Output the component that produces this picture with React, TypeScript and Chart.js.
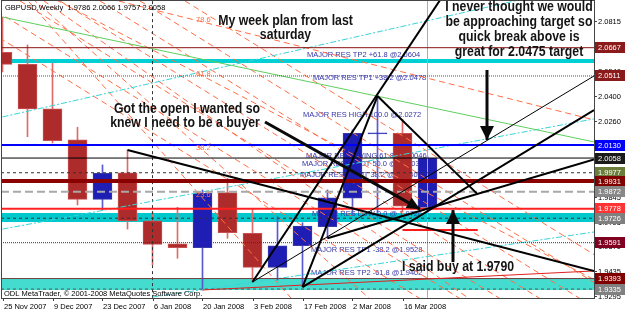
import { useEffect, useRef } from 'react';
import { Chart, registerables } from 'chart.js';

Chart.register(...registerables);

// ---------- data ----------
const weekLabels = ['25 Nov 2007', '2 Dec 2007', '9 Dec 2007', '16 Dec 2007', '23 Dec 2007', '30 Dec 2007', '6 Jan 2008', '13 Jan 2008', '20 Jan 2008', '27 Jan 2008', '3 Feb 2008', '10 Feb 2008', '17 Feb 2008', '24 Feb 2008', '2 Mar 2008', '9 Mar 2008', '16 Mar 2008', '23 Mar 2008'];
const opens = [2.0642, 2.0575, 2.0329, 2.0158, 1.9830, 1.9977, 1.9712, 1.9585, 1.9563, 1.9867, 1.9643, 1.9455, 1.9574, 1.9679, 1.9836, 2.0191, 2.0195, 1.9786];
const highs = [2.0836, 2.0682, 2.0581, 2.0228, 2.0020, 2.0102, 1.9760, 1.9786, 1.9882, 1.9946, 1.9781, 1.9734, 1.9701, 1.9882, 2.0213, 2.0400, 2.0272, 2.0066];
const lows = [2.0533, 2.0176, 2.0141, 1.9799, 1.9771, 1.9666, 1.9468, 1.9505, 1.9330, 1.9615, 1.9376, 1.9385, 1.9348, 1.9615, 1.9744, 1.9727, 1.9760, 1.9757];
const closes = [2.0575, 2.0329, 2.0154, 1.9830, 1.9974, 1.9711, 1.9582, 1.9563, 1.9863, 1.9646, 1.9455, 1.9574, 1.9683, 1.9839, 2.0195, 2.0195, 1.9793, 2.0058];

const axisTicks = [2.0815, 2.0675, 2.0540, 2.0400, 2.0260, 2.0120, 1.9985, 1.9845, 1.9705, 1.9570, 1.9435, 1.9295];
const levelPrices = [2.0667, 2.0511, 2.0130, 2.0058, 1.9977, 1.9931, 1.9872, 1.9778, 1.9726, 1.9591, 1.9393, 1.9335];

const fibTexts = ['MAJOR RES TP2 +61.8 @2.0604', 'MAJOR RES TP1 +38.2 @2.0478', 'MAJOR RES HIGH 100.0 @2.0272', 'MAJOR RES SWING 61.8 @2.0046', 'MAJOR RES PIVOT 50.0 @2.0003', 'MAJOR RES PIVOT 38.2 @1.9940', 'MAJOR RES LOW 0.0 @ 1.9726', 'MAJOR RES TP1 -38.2 @1.9528', 'MAJOR RES TP2 -61.8 @1.9402'];
const fibPrices = [2.0604, 2.0478, 2.0272, 2.0046, 2.0003, 1.9940, 1.9726, 1.9528, 1.9402];

// fan (origin then end price at bar 24)
const fanNames = ['78.6', '61.8', '50.0', '38.2', '23.6'];
const fanOrigin = [0, 2.1085];
const fanEndBar = 24;
const fanEndPrices = [2.0257, 1.9363, 1.8767, 1.8138, 1.7343];
// parallel dashed channel lines: bar at 2.0925 -> bar at 1.9286
const channelTopBars = [-2.5, -0.9, 0.7, 2.3, 3.9, 5.5, 7.3];
const channelBottomBars = [16.66, 18.26, 19.86, 21.46, 23.06, 24.66, 26.46];
const channelPrices = [2.0925, 1.9286];

// trend lines [bar1, price1, bar2, price2]
const blackLines = [
  [5, 2.0102, 23.66, 1.9435],
  [10, 1.9374, 17.6, 2.095],
  [15, 2.0400, 19, 1.9859],
  [12, 1.9346, 15, 2.0400],
  [13, 1.9615, 23.66, 2.0050],
  [10, 1.9374, 23.66, 2.0511],
  [12, 1.9346, 23.66, 2.0323],
];
const blackWidths = [2, 2, 2, 2, 2, 1, 2];
const arrowLines = [
  [10.5, 2.0257, 16.7, 1.9776],
  [19.38, 2.0544, 19.38, 2.0158],
  [18.02, 1.9484, 18.02, 1.9771],
];
const redShort = [16, 1.9661, 19.01, 1.9661];
const redRise = [8, 1.9330, 23.66, 1.9435];
const greenLine = [0, 2.0836, 23.66, 2.0147];
const cyanLines = [
  [0, 2.0285, 23.66, 2.1024],
  [0, 1.9666, 23.66, 2.0274],
  [6, 1.9291, 23.66, 1.9650],
];
const cyanThickLevel = 2.0593;
const bandTops = [1.97546, 1.9393];
const bandBottoms = [1.9705, 1.9330];
const dashedVerticalBar = 6;
const currentBar = 17;

// ---------- styles ----------
const levelColors = ['#8b1010', '#9b2a6b', '#0000ff', '#000000', '#333333', '#8b0000', '#a8a8a8', '#ff2020', '#333333', '#800080', '#704040', '#555555'];
const levelWidths = [1, 1, 2, 1, 1, 4, 2, 2, 1, 1, 1, 1];
const levelDashes = [[], [1, 1], [], [], [3, 3], [], [8, 4], [], [3, 3], [1, 1], [], [3, 3]];
const levelBoxColors = ['#8b1a1a', '#8b1a1a', '#0000ff', '#1a1a1a', '#6b7d3a', '#800000', '#888888', '#ff3333', '#808080', '#800020', '#800000', '#808080'];
const fibX = [307, 313, 303, 306, 302, 300, 312, 311, 311];

const X_MIN = -0.02;
const X_MAX = 23.66;
const Y_MIN = 1.92857;
const Y_MAX = 2.09247;

function seg(a: number[]) {
  return [{ x: a[0], y: a[1] }, { x: a[2], y: a[3] }];
}

function lineDs(data: any[], color: string, width: number, dash: number[], order: number, extra: any = {}) {
  return {
    type: 'line',
    data,
    borderColor: color,
    borderWidth: width,
    borderDash: dash,
    pointRadius: 0,
    pointHoverRadius: 0,
    fill: false,
    tension: 0,
    order,
    clip: 0,
    ...extra,
  };
}

function drawText(ctx: CanvasRenderingContext2D, s: string, x: number, y: number, font: string, color: string, align: CanvasTextAlign = 'left', sx = 1, baseline: CanvasTextBaseline = 'alphabetic') {
  ctx.save();
  ctx.font = font;
  ctx.fillStyle = color;
  ctx.textAlign = align;
  ctx.textBaseline = baseline;
  ctx.translate(x, y);
  ctx.scale(sx, 1);
  ctx.fillText(s, 0, 0);
  ctx.restore();
}

function arrowHead(ctx: CanvasRenderingContext2D, x1: number, y1: number, x2: number, y2: number, len: number, half: number) {
  const a = Math.atan2(y2 - y1, x2 - x1);
  const c = Math.cos(a), s = Math.sin(a);
  ctx.beginPath();
  ctx.moveTo(x2, y2);
  ctx.lineTo(x2 - len * c + half * s, y2 - len * s - half * c);
  ctx.lineTo(x2 - len * c - half * s, y2 - len * s + half * c);
  ctx.closePath();
  ctx.fill();
}

const SMALL = '7.5px "Liberation Sans", Arial, sans-serif';
const BIG = 'bold 15px "Liberation Sans", Arial, sans-serif';

export default function App() {
  const ref = useRef<HTMLCanvasElement>(null);

  useEffect(() => {
    document.body.style.margin = '0';
    const canvas = ref.current!;
    const bars = opens.map((_, i) => i);
    const isUp = bars.map((i) => closes[i] >= opens[i]);

    const datasets: any[] = [];

    // bands (behind everything)
    bandTops.forEach((top, k) => {
      datasets.push(lineDs([{ x: X_MIN - 1, y: top }, { x: X_MAX + 1, y: top }], 'rgba(0,0,0,0)', 0, [], 30, {
        fill: { value: bandBottoms[k] },
        backgroundColor: k === 0 ? '#00c8cc' : '#44dccf',
      }));
    });
    datasets.push(lineDs([{ x: X_MIN - 1, y: cyanThickLevel }, { x: X_MAX + 1, y: cyanThickLevel }], '#00d0d4', 4, [], 29));

    // candles
    datasets.push({
      type: 'bar',
      label: 'wicks',
      data: bars.map((i) => ({ x: i, y: [lows[i], highs[i]] })),
      backgroundColor: bars.map((i) => (isUp[i] ? '#5a5ad0' : '#e06a6a')),
      barThickness: 1,
      grouped: false,
      order: 10,
    });
    datasets.push({
      type: 'bar',
      label: 'bodies',
      data: bars.map((i) => ({ x: i, y: [opens[i], closes[i]] })),
      backgroundColor: bars.map((i) => (isUp[i] ? '#1e1eb4' : '#ad2b2b')),
      borderColor: bars.map((i) => (isUp[i] ? '#3a3aa8' : '#c85050')),
      borderWidth: 1,
      borderSkipped: false,
      barThickness: 19,
      minBarLength: 1,
      grouped: false,
      order: 9,
    });

    // orange dashed fan & channel
    fanEndPrices.forEach((p) => {
      datasets.push(lineDs(seg([fanOrigin[0], fanOrigin[1], fanEndBar, p]), '#ff6f47', 1, [6, 4], 6));
    });
    channelTopBars.forEach((b, k) => {
      datasets.push(lineDs(seg([b, channelPrices[0], channelBottomBars[k], channelPrices[1]]), '#ff6f47', 1, [6, 4], 6));
    });
    // green & cyan sloping lines
    datasets.push(lineDs(seg(greenLine), '#5fcf5f', 1, [], 5));
    cyanLines.forEach((c) => datasets.push(lineDs(seg(c), '#38d4d8', 1, [6, 2, 2, 2], 5)));
    // vertical lines
    datasets.push(lineDs([{ x: dashedVerticalBar, y: Y_MIN - 0.01 }, { x: dashedVerticalBar, y: Y_MAX + 0.01 }], '#333333', 1, [3, 3], 5));
    datasets.push(lineDs([{ x: currentBar, y: Y_MIN - 0.01 }, { x: currentBar, y: Y_MAX + 0.01 }], '#9acd32', 1, [], 5));

    // horizontal levels
    levelPrices.forEach((p, k) => {
      datasets.push(lineDs([{ x: X_MIN - 1, y: p }, { x: X_MAX + 1, y: p }], levelColors[k], levelWidths[k], levelDashes[k], 4));
    });
    // red lines
    datasets.push(lineDs(seg(redRise), '#e02020', 1, [], 3));
    datasets.push(lineDs(seg(redShort), '#ff1a1a', 2, [], 3));
    // black trend lines
    blackLines.forEach((l, k) => datasets.push(lineDs(seg(l), '#000000', blackWidths[k], [], 2)));
    arrowLines.forEach((l) => datasets.push(lineDs(seg(l), '#0a0a0a', 3, [], 1)));

    const overlay = {
      id: 'overlay',
      beforeDraw(chart: any) {
        const c = chart.ctx;
        c.save();
        c.fillStyle = '#ffffff';
        c.fillRect(0, 0, chart.width, chart.height);
        c.restore();
      },
      beforeDatasetDraw(chart: any, args: any) {
        if (chart.data.datasets[args.index].label !== 'wicks') return;
        const c = chart.ctx;
        const ys = chart.scales.y;
        fibTexts.forEach((t, k) => {
          drawText(c, t, fibX[k], ys.getPixelForValue(fibPrices[k]) - 2, SMALL, '#3535a8');
        });
      },
      afterDatasetsDraw(chart: any) {
        const c = chart.ctx as CanvasRenderingContext2D;
        const xs = chart.scales.x;
        const ys = chart.scales.y;
        const area = chart.chartArea;

        // arrow heads
        c.save();
        c.fillStyle = '#0a0a0a';
        arrowLines.forEach((l, k) => {
          const x1 = xs.getPixelForValue(l[0]), y1 = ys.getPixelForValue(l[1]);
          const x2 = xs.getPixelForValue(l[2]), y2 = ys.getPixelForValue(l[3]);
          arrowHead(c, x1, y1, x2, y2, k === 0 ? 13 : 14, k === 0 ? 6 : 7);
        });
        c.restore();

        // fan labels
        const ox = xs.getPixelForValue(fanOrigin[0]), oy = ys.getPixelForValue(fanOrigin[1]);
        const ex = xs.getPixelForValue(fanEndBar);
        fanNames.forEach((n, k) => {
          const ey = ys.getPixelForValue(fanEndPrices[k]);
          const lx = 196;
          const ly = oy + ((ey - oy) * (lx + 6 - ox)) / (ex - ox);
          drawText(c, n, lx, ly, SMALL, '#ff6f47');
        });

        // frame
        c.save();
        c.strokeStyle = '#444444';
        c.lineWidth = 1;
        c.strokeRect(area.left - 0.5, area.top - 0.5, area.right - area.left + 1, area.bottom - area.top + 1);
        c.restore();

        // right axis ticks
        c.save();
        c.strokeStyle = '#444444';
        axisTicks.forEach((t) => {
          const y = Math.round(ys.getPixelForValue(t)) + 0.5;
          c.beginPath();
          c.moveTo(area.right, y);
          c.lineTo(area.right + 3, y);
          c.stroke();
          drawText(c, t.toFixed(4), area.right + 4, y + 0.5, SMALL, '#000000', 'left', 1, 'middle');
        });
        c.restore();
        // level boxes
        levelPrices.forEach((p, k) => {
          const y = ys.getPixelForValue(p);
          c.fillStyle = levelBoxColors[k];
          c.fillRect(area.right + 1, Math.round(y - 5.5), 31, 11);
          drawText(c, p.toFixed(4), area.right + 4, Math.round(y - 5.5) + 6, SMALL, '#ffffff', 'left', 1, 'middle');
        });

        // x axis labels
        c.save();
        c.strokeStyle = '#444444';
        weekLabels.forEach((w, i) => {
          if (i % 2 !== 0) return;
          const x = Math.round(xs.getPixelForValue(i)) + 0.5;
          c.beginPath();
          c.moveTo(x, area.bottom);
          c.lineTo(x, area.bottom + 3);
          c.stroke();
          drawText(c, w, x + 0.5, area.bottom + 11, SMALL, '#000000');
        });
        c.restore();

        // title & copyright
        const n = opens.length - 1;
        drawText(c, `GBPUSD,Weekly  ${opens[n].toFixed(4)} ${highs[n].toFixed(4)} ${lows[n].toFixed(4)} ${closes[n].toFixed(4)}`, 5, 10, SMALL, '#000000');
        drawText(c, 'ODL MetaTrader, © 2001-2008 MetaQuotes Software Corp.', 4, 296, SMALL, '#000000');

        // annotations
        const col = '#141414';
        drawText(c, 'My week plan from last', 285.5, 25, BIG, col, 'center', 0.82);
        drawText(c, 'saturday', 285.5, 39, BIG, col, 'center', 0.82);
        drawText(c, 'Got the open I wanted so', 187, 113, BIG, col, 'center', 0.82);
        drawText(c, 'knew I need to be a buyer', 185, 127, BIG, col, 'center', 0.82);
        drawText(c, 'I never thought we would', 519, 11, BIG, col, 'center', 0.82);
        drawText(c, 'be approaching target so', 519, 26, BIG, col, 'center', 0.82);
        drawText(c, 'quick break above is', 519, 41, BIG, col, 'center', 0.82);
        drawText(c, 'great for 2.0475 target', 519, 56, BIG, col, 'center', 0.82);
        drawText(c, 'I said buy at 1.9790', 402, 271, BIG, col, 'left', 0.82);
      },
    };

    const chart = new Chart(canvas, {
      type: 'bar',
      data: { datasets },
      options: {
        animation: false,
        responsive: false,
        devicePixelRatio: 1,
        events: [],
        layout: { padding: { left: 2, right: 31, top: 1, bottom: 15 } },
        plugins: { legend: { display: false }, tooltip: { enabled: false } },
        scales: {
          x: { type: 'linear', min: X_MIN, max: X_MAX, display: false, offset: false, grid: { display: false } },
          y: { type: 'linear', min: Y_MIN, max: Y_MAX, display: false, beginAtZero: false, grid: { display: false } },
        },
      } as any,
      plugins: [overlay],
    } as any);

    return () => chart.destroy();
  }, []);

  return (
    <canvas
      ref={ref}
      width={625}
      height={313}
      style={{ display: 'block', position: 'fixed', left: 0, top: 0, width: 625, height: 313 }}
    />
  );
}
